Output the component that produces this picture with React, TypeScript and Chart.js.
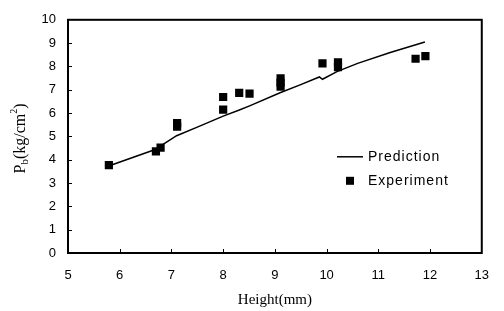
import React, { useEffect, useRef } from "react";
import { Chart, registerables } from "chart.js";

Chart.register(...registerables);

const expHeight = [5.79, 6.7, 6.79, 7.11, 7.11, 8.0, 8.0, 8.31, 8.51, 9.11, 9.11, 9.11, 9.92, 10.22, 10.22, 11.72, 11.91];
const expPressure = [3.77, 4.36, 4.52, 5.57, 5.42, 6.69, 6.15, 6.87, 6.83, 7.49, 7.3, 7.13, 8.13, 8.18, 7.97, 8.33, 8.44];

const predHeight = [5.8, 6.7, 6.8, 7.1, 7.5, 8.0, 8.3, 8.5, 9.1, 9.5, 9.86, 9.92, 10.2, 10.6, 11.23, 11.9];
const predPressure = [3.74, 4.45, 4.6, 5.03, 5.4, 5.87, 6.12, 6.3, 6.87, 7.22, 7.55, 7.45, 7.78, 8.13, 8.6, 9.05];

const xTicks = [5, 6, 7, 8, 9, 10, 11, 12, 13];
const yTicks = [0, 1, 2, 3, 4, 5, 6, 7, 8, 9, 10];

const legendLabels = ["Prediction", "Experiment"];
const xTitle = "Height(mm)";
const yTitleParts = ["P", "b", "(kg/cm", "2", ")"];

const SANS = "'Liberation Sans', Arial, sans-serif";
const SERIF = "'Liberation Serif', 'Times New Roman', serif";

const framePlugin = {
  id: "frame",
  afterDatasetsDraw(chart: any) {
    const { ctx, chartArea } = chart;
    const { left, right, top, bottom } = chartArea;
    const xs = chart.scales.x;
    const ys = chart.scales.y;
    ctx.save();
    ctx.strokeStyle = "#000";
    // inward ticks
    ctx.lineWidth = 1;
    ctx.beginPath();
    yTicks.forEach((v) => {
      if (v === yTicks[0] || v === yTicks[yTicks.length - 1]) return;
      const py = Math.round(ys.getPixelForValue(v)) + 0.5;
      ctx.moveTo(left, py);
      ctx.lineTo(left + 4, py);
    });
    xTicks.forEach((v) => {
      if (v === xTicks[0] || v === xTicks[xTicks.length - 1]) return;
      const px = Math.round(xs.getPixelForValue(v)) + 0.5;
      ctx.moveTo(px, bottom);
      ctx.lineTo(px, bottom - 4);
    });
    ctx.stroke();
    // frame
    ctx.lineWidth = 2;
    ctx.strokeRect(left, top, right - left, bottom - top);

    // legend
    const lx = left + 269;
    const ly1 = top + 137;
    const ly2 = top + 161;
    ctx.lineWidth = 1.5;
    ctx.beginPath();
    ctx.moveTo(lx, ly1);
    ctx.lineTo(lx + 26, ly1);
    ctx.stroke();
    ctx.fillStyle = "#000";
    ctx.fillRect(lx + 9, ly2 - 4, 8, 8);
    ctx.font = "14px " + SANS;
    (ctx as any).letterSpacing = "1px";
    ctx.textBaseline = "middle";
    ctx.textAlign = "left";
    ctx.fillText(legendLabels[0], lx + 31, ly1);
    ctx.fillText(legendLabels[1], lx + 31, ly2);
    (ctx as any).letterSpacing = "0px";

    // y title with sub/superscript
    const cy = (top + bottom) / 2 + 2;
    ctx.translate(25, cy);
    ctx.rotate(-Math.PI / 2);
    ctx.textBaseline = "alphabetic";
    const fonts = ["16px " + SERIF, "11px " + SERIF, "16px " + SERIF, "10px " + SERIF, "16px " + SERIF];
    const offs = [0, 3, 0, -8, 0];
    let total = 0;
    const widths = yTitleParts.map((t, i) => {
      ctx.font = fonts[i];
      const w = ctx.measureText(t).width;
      total += w;
      return w;
    });
    let x = -total / 2;
    yTitleParts.forEach((t, i) => {
      ctx.font = fonts[i];
      ctx.fillText(t, x, offs[i]);
      x += widths[i];
    });
    ctx.restore();
  },
};

export default function App() {
  const ref = useRef<HTMLCanvasElement | null>(null);

  useEffect(() => {
    document.body.style.margin = "0";
    const canvas = ref.current;
    if (!canvas) return;
    const chart = new Chart(canvas, {
      type: "scatter",
      data: {
        datasets: [
          {
            label: legendLabels[0],
            data: predHeight.map((h, i) => ({ x: h, y: predPressure[i] })),
            showLine: true,
            borderColor: "#000",
            backgroundColor: "#000",
            borderWidth: 1.5,
            pointRadius: 0,
            tension: 0,
          },
          {
            label: legendLabels[1],
            data: expHeight.map((h, i) => ({ x: h, y: expPressure[i] })),
            showLine: false,
            pointStyle: "rect",
            pointRadius: 5.8,
            borderWidth: 0,
            backgroundColor: "#000",
            borderColor: "#000",
          },
        ],
      },
      options: {
        responsive: false,
        animation: false,
        layout: { padding: { top: 15, right: 10, left: 0, bottom: 0 } },
        plugins: {
          legend: { display: false },
          tooltip: { enabled: false },
        },
        scales: {
          x: {
            type: "linear",
            min: xTicks[0],
            max: xTicks[xTicks.length - 1],
            afterBuildTicks: (s: any) => {
              s.ticks = xTicks.map((v) => ({ value: v }));
            },
            grid: { display: false, drawTicks: false },
            border: { display: false },
            ticks: {
              color: "#000",
              padding: 15,
              font: { family: SANS, size: 13 },
              maxRotation: 0,
            },
            title: {
              display: true,
              text: xTitle,
              color: "#000",
              font: { family: SERIF, size: 15 },
              padding: { top: 0, bottom: 2 },
            },
            afterFit: (s: any) => {
              s.height = 58;
            },
          },
          y: {
            type: "linear",
            min: yTicks[0],
            max: yTicks[yTicks.length - 1],
            afterBuildTicks: (s: any) => {
              s.ticks = yTicks.map((v) => ({ value: v }));
            },
            grid: { display: false, drawTicks: false },
            border: { display: false },
            ticks: {
              color: "#000",
              padding: 12,
              font: { family: SANS, size: 13 },
            },
            afterFit: (s: any) => {
              s.width = 68;
            },
          },
        },
      },
      plugins: [framePlugin],
    });
    return () => chart.destroy();
  }, []);

  return <canvas ref={ref} width={504} height={311} style={{ display: "block" }} />;
}
